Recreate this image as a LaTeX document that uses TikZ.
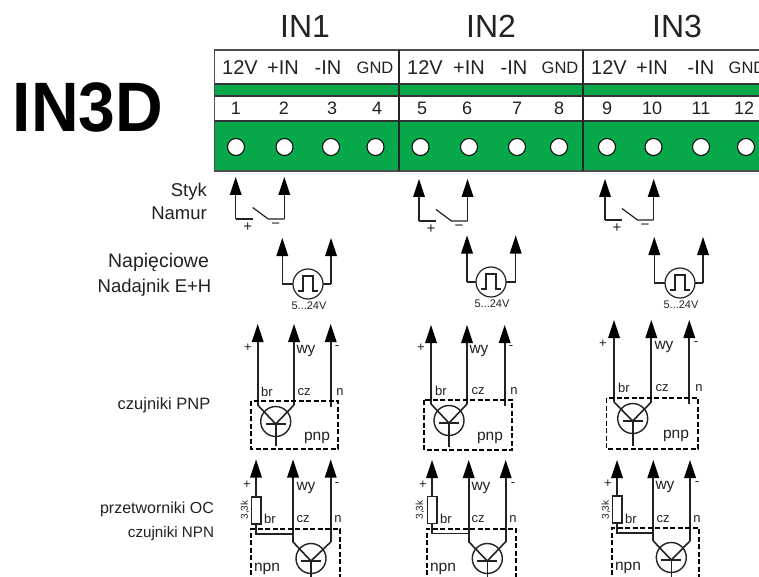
\documentclass[tikz,border=0pt]{standalone}
\usepackage{fontspec}
\setmainfont{Liberation Sans}
\definecolor{pcb}{HTML}{06A84A}
\definecolor{ink}{HTML}{222222}
\newcommand{\fsz}[1]{\fontsize{#1}{#1}\selectfont}
% arrow: x, tip y, foot y, line width
\newcommand{\upwire}[4]{%
  \draw[ink,line width=#4] (#1,#2+15) -- (#1,#3);
  \fill[black] (#1,#2) -- (#1+6,#2+18) -- (#1-6,#2+18) -- cycle;}
% switch: xl, xr, ytip, ybottom
\newcommand{\switchunit}[4]{%
  \upwire{#1}{#3}{#4}{1.2pt}\upwire{#2}{#3}{#4}{1.2pt}
  \draw[ink,line width=1.2pt] (#1,#4) -- (#1+17,#4);
  \draw[ink,line width=1.2pt] (#1+17,#4-11.5) -- (#1+32.5,#4) -- (#2,#4);
  \node[smalltxt,font=\fsz{15}] at (#1+12,#4+8.5) {+};
  \node[smalltxt,font=\fsz{15}] at (#1+40,#4+7) {\textminus};}
% pulse: xl, xr, cx, cy, ytip
\newcommand{\pulseunit}[5]{%
  \upwire{#1}{#5}{#4}{1.2pt}\upwire{#2}{#5}{#4}{1.2pt}
  \draw[ink,line width=1.2pt] (#1,#4) -- (#3-15,#4) (#3+15,#4) -- (#2,#4);
  \draw[ink,line width=1.2pt] (#3,#4) circle[radius=15];
  \draw[ink,line width=1.2pt] (#3-10,#4+7) -- (#3-5,#4+7) -- (#3-5,#4-8) -- (#3+5,#4-8) -- (#3+5,#4+7) -- (#3+10,#4+7);
  \node[smalltxt,font=\fsz{11}] at (#3+1,#4+22) {5...24V};}
\newcommand{\transistor}[3]{% cx bar-y stem-end
  \draw[ink,line width=1.4pt] (#1,#2-2.5) circle[radius=15];
  \draw[ink,line width=1.6pt] (#1-10,#2) -- (#1+10,#2) (#1,#2) -- (#1,#3);}
% pnp: x+, xw, xn, tip, boxl, boxr, boxt, boxb, cx
\newcommand{\pnpunit}[9]{%
  \upwire{#1}{#4}{#7+4}{2pt}\upwire{#2}{#4}{#7+4}{2pt}\upwire{#3}{#4}{#7+6}{2pt}
  \draw[dash pattern=on 5pt off 2.5pt,black,line width=1.6pt] (#5,#7) rectangle (#6,#8);
  \transistor{#9}{#7+23}{#8-3}
  \draw[ink,line width=1.6pt] (#1,#7+4) -- (#9,#7+23) -- (#2,#7+4);}
% npn: x+, xw, xn, tip, boxl, boxr, boxt, cx, bar
\newcommand{\npnunit}[9]{%
  \upwire{#1}{#4}{#7-32}{2pt}\upwire{#2}{#4}{#7+13}{2pt}\upwire{#3}{#4}{#7+13}{2pt}
  \draw[dash pattern=on 5pt off 2.5pt,black,line width=1.6pt] (#5,590) -- (#5,#7) -- (#6,#7) -- (#6,590);
  \draw[ink,line width=1.4pt,fill=white] (#1-4.8,#7-32) rectangle (#1+4.8,#7-5);
  \draw[ink,line width=1.4pt] (#1,#7-5) -- (#1,#7+5) -- (#2,#7+5);
  \transistor{#8}{#9}{590}
  \draw[ink,line width=1.6pt] (#2,#7+13) -- (#8,#9) -- (#3,#7+13);}
\tikzset{
  x=1pt,y=-1pt,
  smalltxt/.style={inner sep=0pt,text=ink},
  head/.style={smalltxt,font=\fsz{32}},
  sig/.style={smalltxt,font=\fsz{20}},
  gnd/.style={smalltxt,font=\fsz{16.5}},
  num/.style={smalltxt,font=\fsz{18}},
  tiny/.style={smalltxt,font=\fsz{13}},
  wy/.style={smalltxt,font=\fsz{15.5}},
  hole/.style={circle,draw=black,line width=1pt,fill=white,minimum size=17pt,inner sep=0pt},
}
\begin{document}
\begin{tikzpicture}
\useasboundingbox (0,0) rectangle (759,577);
\fill[white] (0,0) rectangle (759,577);
% board
\fill[pcb] (214.5,84) rectangle (759,96);
\fill[pcb] (214.5,121) rectangle (759,171);
\draw[black!70,line width=1.2pt] (759,50) -- (214.5,50) -- (214.5,171) -- (759,171);
\draw[black!80,line width=1.2pt] (214.5,84) -- (759,84) (214.5,96) -- (759,96) (214.5,121) -- (759,121);
\draw[black!85,line width=1.2pt] (399,50) -- (399,171) (583,50) -- (583,171);
% titles
\node[smalltxt,font=\fsz{66}\bfseries,text=black,yscale=1.06] (title) at (88,107) {IN3D};
\node[head] (in1) at (305,26) {IN1};
\node[head] (in2) at (491,26) {IN2};
\node[head] (in3) at (677,26) {IN3};
% signal row
\foreach \n/\x/\t/\s in {a/240/12V/sig,b/283/+IN/sig,c/328/-IN/sig,d/375/GND/gnd,e/425/12V/sig,f/469/+IN/sig,g/514/-IN/sig,h/560/GND/gnd,i/609/12V/sig,j/652/+IN/sig,k/701/-IN/sig,l/747/GND/gnd}
  \node[\s] (s\n) at (\x,68) {\t};
% numbers and holes
\foreach \k/\x/\h in {1/236/236,2/284/284.5,3/332/331,4/377/375.5,5/422/420.5,6/467/469,7/517/517,8/559/559,9/607/607,10/652/653.5,11/701/701,12/744/746}{
  \node[num] (n\k) at (\x,108.5) {\k};
  \node[hole] (t\k) at (\h,147) {};
}
% left labels
\node[smalltxt,font=\fsz{18.5},anchor=east] (l1) at (207,192) {Styk};
\node[smalltxt,font=\fsz{18.5},anchor=east] (l2) at (207,213) {Namur};
\node[smalltxt,font=\fsz{19.5}] (l3) at (158.5,262) {Napięciowe};
\node[smalltxt,font=\fsz{18.5}] (l4) at (154.5,288) {Nadajnik E+H};
\node[smalltxt,font=\fsz{16.5}] (l5) at (164,405) {czujniki PNP};
\node[smalltxt,font=\fsz{16}] (l6) at (157,509) {przetworniki OC};
\node[smalltxt,font=\fsz{15.2}] (l7) at (171,534) {czujniki NPN};
% switches
\switchunit{235.7}{284.3}{177}{219}
\switchunit{419}{467.5}{179}{221}
\switchunit{605}{653.7}{179}{220}
% pulse
\pulseunit{282.3}{331}{308}{284}{238}
\pulseunit{467}{515.7}{491}{282}{235.5}
\pulseunit{654.3}{703}{680}{283}{237}
% pnp
\pnpunit{257.7}{294}{330.7}{324}{251}{338}{401}{449}{275.7}
\pnpunit{431}{467}{504.7}{325}{424}{512}{400}{450}{449}
\pnpunit{614}{651.3}{689.3}{320}{606.5}{698}{398}{449}{632.7}
% npn
\npnunit{256}{293}{330.7}{459.5}{251}{340}{529}{311}{561}
\npnunit{432}{468.7}{505.7}{460}{426.7}{515.7}{528.7}{487.3}{561}
\npnunit{617}{653.3}{690}{460}{612}{699}{528}{671.3}{560}
% pnp texts
\foreach \n/\a/\b/\c/\d/\e/\f/\g/\yA/\yB/\yC in {
  p1/248/306/337/267/304/340/317/348/392/438,
  p2/421/479/511/441/478/514/490/348/391/438,
  p3/603/664/696/624/662/699/676/344/388/436}{
  \node[tiny] (\n a) at (\a,\yA) {+};
  \node[wy]   (\n b) at (\b,\yA+3) {wy};
  \node[tiny] (\n c) at (\c,\yA) {-};
  \node[tiny] (\n d) at (\d,\yB) {br};
  \node[tiny] (\n e) at (\e,\yB) {cz};
  \node[tiny] (\n f) at (\f,\yB) {n};
  \node[wy]   (\n g) at (\g,\yC) {pnp};
}
% npn texts
\foreach \n/\a/\b/\c/\d/\e/\f/\g/\r/\yA/\yB/\yC in {
  q1/247/306/337/270/303/338/267/245/485/519/569,
  q2/423/481/513/446/478/513/443/420/485/519/569,
  q3/608/665/697/631/663/697/628/606/484/519/568}{
  \node[tiny] (\n a) at (\a,\yA) {+};
  \node[wy]   (\n b) at (\b,\yA+3) {wy};
  \node[tiny] (\n c) at (\c,\yA) {-};
  \node[tiny] (\n d) at (\d,\yB) {br};
  \node[tiny] (\n e) at (\e,\yB) {cz};
  \node[tiny] (\n f) at (\f,\yB) {n};
  \node[wy]   (\n g) at (\g,\yC) {npn};
  \node[smalltxt,font=\fsz{10},rotate=90] (\n r) at (\r,510) {3,3k};
}
\end{tikzpicture}
\end{document}
